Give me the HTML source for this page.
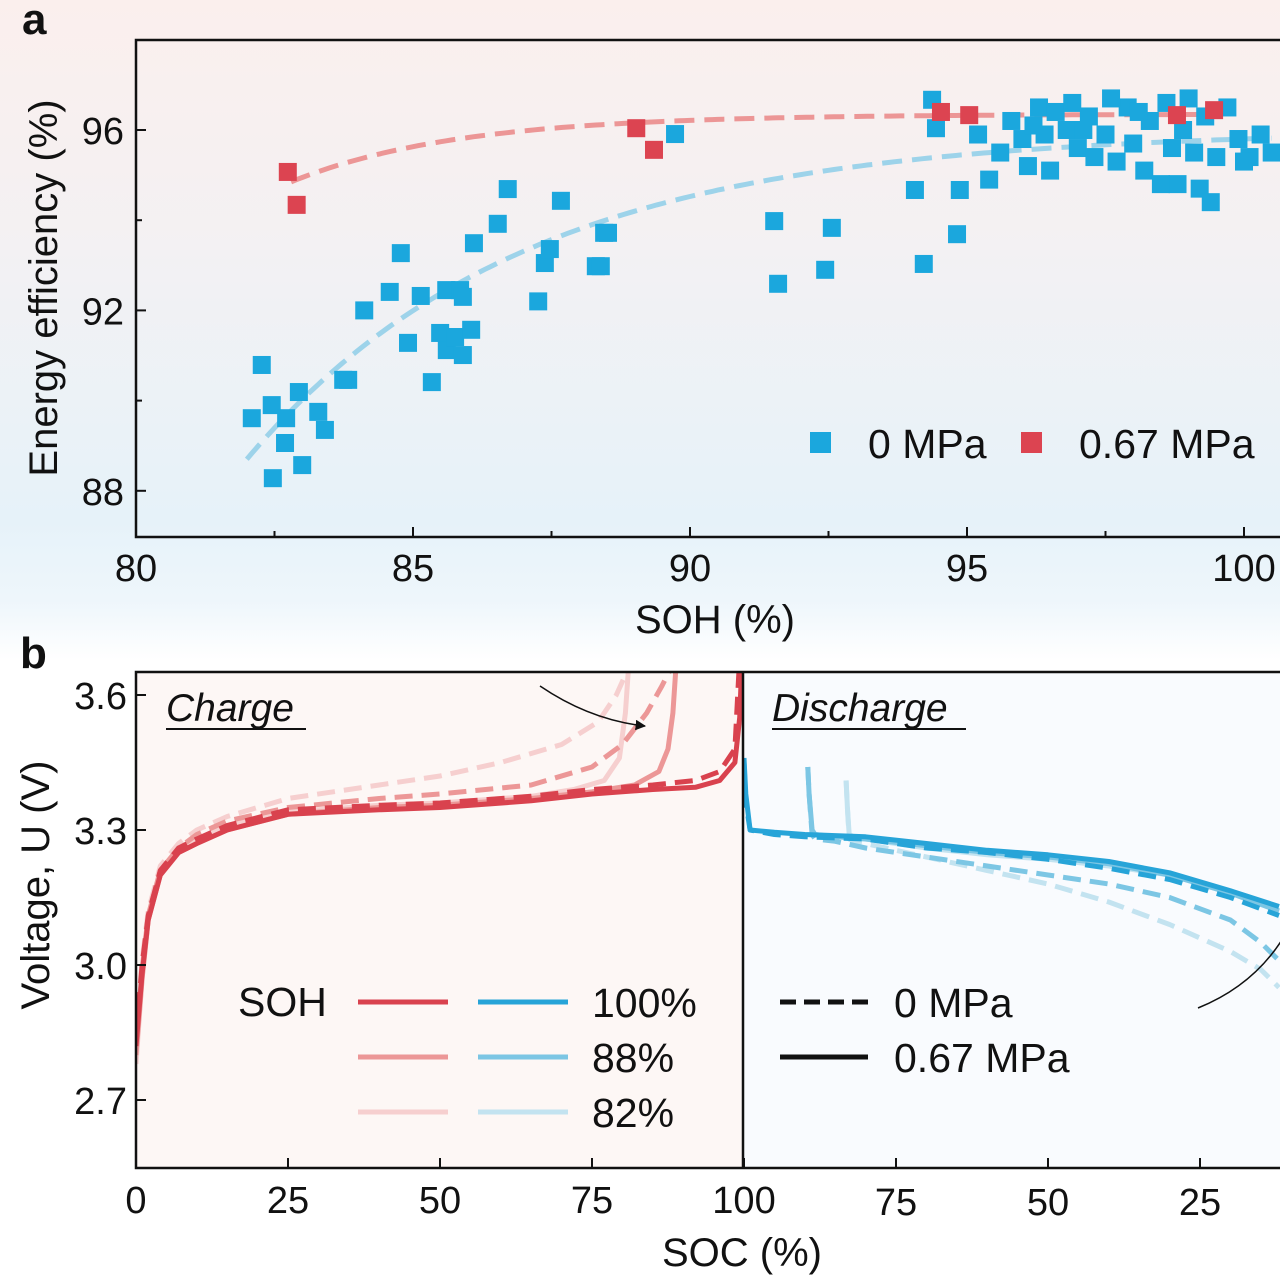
<!DOCTYPE html>
<html><head><meta charset="utf-8">
<style>
html,body{margin:0;padding:0;}
body{width:1280px;height:1279px;overflow:hidden;background:linear-gradient(180deg,#fbefed 0px,#f3f1f3 250px,#e6f2f9 520px,#eef6fb 600px,#ffffff 660px,#ffffff 1279px);font-family:"Liberation Sans",Arial,sans-serif;}
svg{display:block;}
svg text{font-family:"Liberation Sans",Arial,sans-serif;}
</style></head>
<body>
<svg id="chart" width="1280" height="1279" viewBox="0 0 1280 1279" xmlns="http://www.w3.org/2000/svg">
<defs>
<clipPath id="clipA"><rect x="136" y="40" width="1144" height="497"/></clipPath>
<clipPath id="clipL"><rect x="136" y="672" width="606" height="496"/></clipPath>
<clipPath id="clipR"><rect x="743" y="672" width="537" height="496"/></clipPath>
<marker id="arrow" viewBox="0 0 10 10" refX="9" refY="5" markerWidth="7" markerHeight="7" orient="auto"><path d="M0,0 L10,5 L0,10 z" fill="#111"/></marker>
</defs>
<rect x="0" y="660" width="1280" height="619" fill="#ffffff"/>
<rect x="136" y="672" width="606" height="496" fill="#fdf7f5"/>
<rect x="743" y="672" width="537" height="496" fill="#f9fbfe"/>
<g id="layer"></g>
</svg>
<script>
// ---------- Panel a data ----------
const blueSOH = [82.09,82.27,82.45,82.71,82.94,82.69,82.47,83.0,83.29,83.41,83.74,83.83,84.12,84.58,84.78,84.91,85.14,85.34,85.6,85.85,85.9,85.49,85.61,85.76,85.9,86.05,86.1,86.53,86.71,87.26,87.38,87.47,87.67,88.3,88.39,88.45,88.52,89.73,91.52,91.59,92.44,92.56,94.06,94.22,94.37,94.44,94.82,94.87,
95.4,95.6,95.8,96.0,96.1,96.3,96.4,96.5,96.6,96.8,97.0,97.2,97.3,97.5,97.7,97.9,98.0,98.2,98.3,98.6,98.7,98.8,98.9,99.1,99.2,99.3,99.4,99.5,99.7,99.9,100.1,100.3,100.5,95.2,96.9,97.6,98.5,96.2,97.1,98.1,99.0,100.0];
const blueEE = [89.61,90.79,89.9,89.61,90.19,89.06,88.28,88.57,89.75,89.35,90.46,90.46,92.0,92.41,93.27,91.28,92.32,90.41,92.45,92.45,92.3,91.5,91.12,91.41,91.01,91.57,93.49,93.92,94.69,92.2,93.05,93.36,94.43,92.98,92.98,93.72,93.72,95.91,93.98,92.59,92.9,93.83,94.67,93.03,96.67,96.04,93.69,94.67,
94.9,95.5,96.2,95.8,95.2,96.5,95.9,95.1,96.4,96.0,95.6,96.3,95.4,95.9,95.3,96.5,95.7,95.1,96.2,96.6,95.6,94.8,96.0,95.5,94.7,96.3,94.4,95.4,96.5,95.8,95.4,95.9,95.5,95.9,96.6,96.7,94.8,96.1,96.0,96.4,96.7,95.3];
const redSOH = [82.74,82.9,89.03,89.35,94.53,95.04,98.79,99.46];
const redEE = [95.07,94.34,96.04,95.56,96.4,96.33,96.33,96.44];
const xTicksA = [80,85,90,95,100];
const yTicksA = [88,92,96];

// ---------- Panel b data ----------
const chargeSOC = {
  s100:[0,1,2,4,7,10,15,25,40,50,65,75,85,92,96,98.5,99.3,99.6],
  d100:[0,1,2,4,7,10,15,25,40,50,65,75,85,92,96,98.5,99.2],
  s88:[0,1,2,4,7,10,15,25,40,50,65,75,82,86,87.5,88.3,88.8],
  d88:[0,1,2,4,7,10,15,25,40,50,65,75,80,84,86.5,88],
  s82:[0,1,2,4,7,10,15,25,40,50,65,72,77,79.5,80.5,81],
  d82:[0,1,2,4,7,10,15,25,40,50,60,70,76,79,81]
};
const chargeV = {
  s100:[2.82,2.98,3.1,3.2,3.25,3.27,3.3,3.335,3.345,3.35,3.365,3.38,3.39,3.395,3.41,3.45,3.55,3.66],
  d100:[2.84,3.0,3.11,3.21,3.26,3.28,3.31,3.345,3.355,3.36,3.375,3.39,3.40,3.41,3.43,3.48,3.66],
  s88:[2.80,2.97,3.1,3.2,3.25,3.27,3.3,3.335,3.35,3.355,3.37,3.385,3.40,3.43,3.48,3.56,3.66],
  d88:[2.82,2.99,3.11,3.21,3.26,3.29,3.32,3.35,3.37,3.38,3.40,3.44,3.49,3.56,3.62,3.66],
  s82:[2.78,2.97,3.1,3.2,3.26,3.28,3.31,3.34,3.355,3.36,3.375,3.39,3.41,3.46,3.56,3.66],
  d82:[2.84,3.01,3.12,3.22,3.27,3.30,3.33,3.37,3.40,3.42,3.45,3.49,3.54,3.6,3.66]
};
const dischSOC = {
  s100:[100,99.7,99,95,90,80,70,60,50,40,30,20,12],
  d100:[100,99.7,99,95,90,80,70,60,50,40,30,20,12],
  s88:[89.5,89.3,88.8,88.3,85,80,70,60,50,40,30,20,12],
  d88:[89.5,89.3,88.8,88.3,85,80,70,60,50,40,30,20,15,12],
  s82:[83.2,83,82.7,82,80,75,70,60,50,40,30,20,12],
  d82:[83.2,83,82.7,82,80,75,70,60,50,40,30,20,15,12]
};
const dischV = {
  s100:[3.46,3.38,3.30,3.295,3.29,3.285,3.27,3.255,3.245,3.23,3.205,3.165,3.13],
  d100:[3.45,3.36,3.30,3.29,3.285,3.28,3.26,3.25,3.235,3.215,3.19,3.15,3.11],
  s88:[3.44,3.38,3.30,3.29,3.285,3.28,3.265,3.25,3.24,3.225,3.20,3.16,3.12],
  d88:[3.44,3.38,3.29,3.28,3.275,3.26,3.24,3.22,3.20,3.18,3.15,3.10,3.05,3.01],
  s82:[3.41,3.35,3.29,3.285,3.28,3.27,3.26,3.245,3.235,3.22,3.20,3.16,3.12],
  d82:[3.41,3.35,3.28,3.275,3.27,3.255,3.24,3.21,3.18,3.14,3.09,3.03,2.99,2.95]
};
const yTicksB = [2.7,3.0,3.3,3.6];
const xTicksBL = [0,25,50,75,100];
const xTicksBR = [75,50,25];

// ---------- scales ----------
const xA = v => 136 + (v-80)*55.4;
const yA = v => 130 - (v-96)*45.1;
const yB = v => 695 - (v-3.6)*450;
const xBL = v => 136 + v*6.08;
const xBR = v => 744 + (100-v)*6.08;

const NS = "http://www.w3.org/2000/svg";
const layer = document.getElementById('layer');
function mk(tag, attrs, parent){
  const e = document.createElementNS(NS, tag);
  for (const k in attrs) e.setAttribute(k, attrs[k]);
  (parent||layer).appendChild(e);
  return e;
}
function txt(s, attrs, parent){ const e = mk('text', attrs, parent); e.textContent = s; return e; }

// ---- Panel a ----
const gA = mk('g', {'clip-path':'url(#clipA)'});


function pathFrom(fn, x0, x1, xs, ys){
  let d=''; for(let x=x0;x<=x1+1e-9;x+=0.1){ d += (d?'L':'M')+xs(x).toFixed(1)+','+ys(fn(x)).toFixed(1); } return d;
}
const blueFit = mk('path', {d:pathFrom(x=>96.0-7.3*Math.exp(-(x-82)/5),82,100.5,xA,yA), fill:'none', stroke:'#9dd3ea', 'stroke-width':5, 'stroke-dasharray':'20 10'}, gA);


const redFit = mk('path', {d:pathFrom(x=>96.35-1.5*Math.exp(-(x-82.8)/3),82.8,99.5,xA,yA), fill:'none', stroke:'#ec9696', 'stroke-width':5, 'stroke-dasharray':'20 10'}, gA);


blueSOH.forEach((s,i)=>{
  const r = mk('rect', {x:xA(s)-9, y:yA(blueEE[i])-9, width:18, height:18, fill:'#1ba7dd'}, gA);
  
  
});
redSOH.forEach((s,i)=>{
  const r = mk('rect', {x:xA(s)-9, y:yA(redEE[i])-9, width:18, height:18, fill:'#dc4451'}, gA);
  
  
});
const frameA = mk('path', {d:'M1280,40 L136,40 L136,537 L1280,537', fill:'none', stroke:'#111', 'stroke-width':2.5});


xTicksA.forEach(t=>{
  mk('line',{x1:xA(t),x2:xA(t),y1:537,y2:527,stroke:'#111','stroke-width':2});
  const l = txt(t, {x:xA(t), y:581, 'font-size':38, 'text-anchor':'middle', fill:'#111'});
  
  
});
for(let t=82.5;t<100;t+=5){ mk('line',{x1:xA(t),x2:xA(t),y1:537,y2:531,stroke:'#111','stroke-width':2}); }
yTicksA.forEach(t=>{
  mk('line',{x1:136,x2:146,y1:yA(t),y2:yA(t),stroke:'#111','stroke-width':2});
  const l = txt(t, {x:124, y:yA(t)+14, 'font-size':38, 'text-anchor':'end', fill:'#111'});
  
  
});
[90,94].forEach(t=>mk('line',{x1:136,x2:142,y1:yA(t),y2:yA(t),stroke:'#111','stroke-width':2}));
const xtA = txt('SOH (%)', {x:715, y:633, 'font-size':40, 'text-anchor':'middle', fill:'#111'});


const ytA = txt('Energy efficiency (%)', {x:0, y:0, 'font-size':40, 'text-anchor':'middle', fill:'#111', transform:'translate(57,288) rotate(-90)'});


const la = txt('a', {x:22, y:34, 'font-size':44, 'font-weight':'bold', fill:'#111'});


const lg1 = mk('rect',{x:810,y:432,width:21,height:21,fill:'#1ba7dd'});


const lt1 = txt('0 MPa',{x:868,y:458,'font-size':41,fill:'#111'});


const lg2 = mk('rect',{x:1021,y:432,width:21,height:21,fill:'#dc4451'});


const lt2 = txt('0.67 MPa',{x:1079,y:458,'font-size':41,fill:'#111'});



// ---- Panel b ----
const red = {s100:'#d9424e', d100:'#d9424e', s88:'#ec9797', d88:'#ec9797', s82:'#f6cfcf', d82:'#f6cfcf'};
const blue = {s100:'#27a4d8', d100:'#27a4d8', s88:'#7cc6e4', d88:'#7cc6e4', s82:'#c3e3f0', d82:'#c3e3f0'};
const order = ['d82','s82','d88','s88','d100','s100'];
function linePath(xsArr, ysArr, xs, ys){ return xsArr.map((v,i)=>(i?'L':'M')+xs(v).toFixed(1)+','+ys(ysArr[i]).toFixed(1)).join(''); }
const gL = mk('g', {'clip-path':'url(#clipL)'});


order.forEach(k=>{
  const p = mk('path',{d:linePath(chargeSOC[k],chargeV[k],xBL,yB),fill:'none',stroke:red[k],'stroke-width':5,'stroke-linejoin':'round','stroke-dasharray':k[0]==='d'?'18 9':'none'}, gL);
  
  
});
const gR = mk('g', {'clip-path':'url(#clipR)'});


order.forEach(k=>{
  const p = mk('path',{d:linePath(dischSOC[k],dischV[k],xBR,yB),fill:'none',stroke:blue[k],'stroke-width':5,'stroke-linejoin':'round','stroke-dasharray':k[0]==='d'?'18 9':'none'}, gR);
  
  
});
const frameB = mk('path',{d:'M1280,672 L136,672 L136,1168 L1280,1168 M743,672 L743,1168',fill:'none',stroke:'#111','stroke-width':2.5});


yTicksB.forEach(t=>{
  mk('line',{x1:136,x2:146,y1:yB(t),y2:yB(t),stroke:'#111','stroke-width':2});
  const l = txt(t.toFixed(1), {x:127, y:yB(t)+14, 'font-size':38, 'text-anchor':'end', fill:'#111'});
  
  
});
xTicksBL.forEach(t=>{
  mk('line',{x1:xBL(t),x2:xBL(t),y1:1168,y2:1158,stroke:'#111','stroke-width':2});
  const l = txt(t, {x:xBL(t), y:1213, 'font-size':38, 'text-anchor':'middle', fill:'#111'});
  
  
});
xTicksBR.forEach(t=>{
  mk('line',{x1:xBR(t),x2:xBR(t),y1:1168,y2:1158,stroke:'#111','stroke-width':2});
  const l = txt(t, {x:xBR(t), y:1215, 'font-size':38, 'text-anchor':'middle', fill:'#111'});
  
  
});
const xtB = txt('SOC (%)', {x:742, y:1266, 'font-size':40, 'text-anchor':'middle', fill:'#111'});


const ytB = txt('Voltage, U (V)', {x:0, y:0, 'font-size':40, 'text-anchor':'middle', fill:'#111', transform:'translate(49,885) rotate(-90)'});


const lb = txt('b', {x:20, y:668, 'font-size':44, 'font-weight':'bold', fill:'#111'});


const tc = txt('Charge', {x:166, y:721, 'font-size':39, 'font-style':'italic', fill:'#111'});


mk('line',{x1:166,x2:306,y1:729,y2:729,stroke:'#111','stroke-width':2});
const td = txt('Discharge', {x:772, y:721, 'font-size':39, 'font-style':'italic', fill:'#111'});


mk('line',{x1:772,x2:966,y1:729,y2:729,stroke:'#111','stroke-width':2});
const a1 = mk('path',{d:'M540,686 Q590,720 645,726',fill:'none',stroke:'#111','stroke-width':1.5,'marker-end':'url(#arrow)'});


const a2 = mk('path',{d:'M1198,1008 Q1255,985 1285,935',fill:'none',stroke:'#111','stroke-width':1.5});


const sl = txt('SOH',{x:238,y:1016,'font-size':41,fill:'#111'});


[['100%','#d9424e','#27a4d8',1002],['88%','#ec9797','#7cc6e4',1057],['82%','#f6cfcf','#c3e3f0',1112]].forEach(r=>{
  const l1 = mk('line',{x1:358,x2:448,y1:r[3],y2:r[3],stroke:r[1],'stroke-width':5});
  
  
  const l2 = mk('line',{x1:478,x2:568,y1:r[3],y2:r[3],stroke:r[2],'stroke-width':5});
  
  
  const t = txt(r[0],{x:592,y:r[3]+15,'font-size':41,fill:'#111'});
  
  
});
const ld = mk('line',{x1:780,x2:868,y1:1002,y2:1002,stroke:'#111','stroke-width':5,'stroke-dasharray':'16 8'});


const ldt = txt('0 MPa',{x:894,y:1017,'font-size':41,fill:'#111'});


const ls = mk('line',{x1:780,x2:868,y1:1057,y2:1057,stroke:'#111','stroke-width':5});


const lst = txt('0.67 MPa',{x:894,y:1072,'font-size':41,fill:'#111'});


</script>
</body></html>
